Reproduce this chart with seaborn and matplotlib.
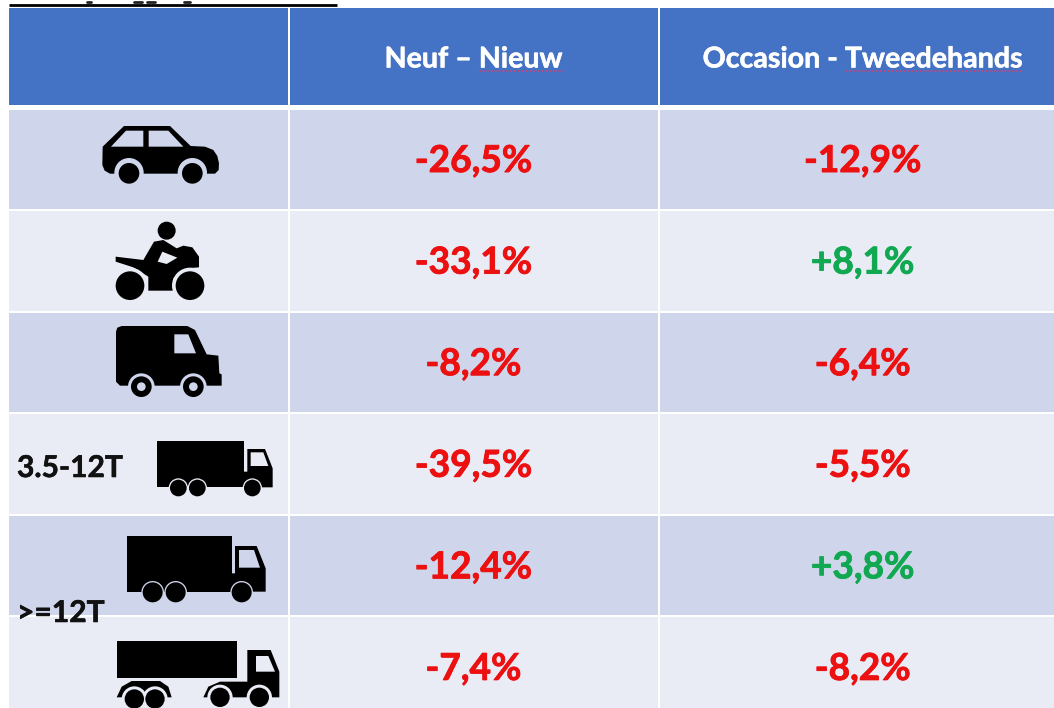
import numpy as np
import seaborn as sns
import matplotlib.pyplot as plt
import matplotlib.patheffects as pe
from matplotlib.colors import ListedColormap
from matplotlib.patches import Circle, Polygon

# table content
columns = ["Neuf – Nieuw", "Occasion - Tweedehands"]
neuf = [-26.5, -33.1, -8.2, -39.5, -12.4, -7.4]
occasion = [-12.9, 8.1, -6.4, -5.5, 3.8, -8.2]
bands = [0, 1, 0, 1, 0, 1]

BLUE = "#4472C4"
DARK_BAND = "#CFD5EA"
LIGHT_BAND = "#E9EBF5"
RED = "#EC1010"
GREEN = "#10A850"
W, H = 1054, 708

sns.set_theme(style="white")
plt.rcParams["font.family"] = ["Lato", "DejaVu Sans"]

fig = plt.figure(figsize=(W / 100, H / 100), dpi=100, facecolor="white")


def px_axes(x0, x1, y0, y1):
    # axes from picture pixels, y counted from the top
    return fig.add_axes([x0 / W, 1 - y1 / H, (x1 - x0) / W, (y1 - y0) / H])


def fmt(v):
    return f"{v:+.1f}%".replace(".", ",")


def thicken(txt, color, width=0.6):
    txt.set_path_effects([pe.withStroke(linewidth=width, foreground=color)])


def nudge(txt, dy):
    x, y = txt.get_position()
    txt.set_position((x, y + dy))


band_cmap = ListedColormap([DARK_BAND, LIGHT_BAND])
col_edges = [(7.5, 288.5), (288.5, 658.5), (658.5, 1067)]
body_values = [None, neuf, occasion]
headers = [""] + columns

for (x0, x1), vals, head in zip(col_edges, body_values, headers):
    # header cell
    ax = px_axes(x0, x1, 7, 106)
    sns.heatmap(np.zeros((1, 1)), ax=ax, cmap=ListedColormap([BLUE]), cbar=False,
                annot=np.array([[head]]), fmt="", linewidths=1.1, linecolor="white",
                xticklabels=False, yticklabels=False,
                annot_kws={"color": "white", "fontsize": 20.6, "fontweight": "bold"})
    for txt in ax.texts:
        nudge(txt, 0.03)
        thicken(txt, "white", 0.4)
    # body cells
    ax = px_axes(x0, x1, 108.5, 718)
    data = np.array(bands, dtype=float).reshape(-1, 1)
    if vals is None:
        annot = False
    else:
        annot = np.array([[fmt(v)] for v in vals])
    sns.heatmap(data, ax=ax, cmap=band_cmap, vmin=0, vmax=1, cbar=False,
                annot=annot, fmt="", linewidths=1.1, linecolor="white",
                xticklabels=False, yticklabels=False,
                annot_kws={"fontsize": 26.7, "fontweight": "bold"})
    if vals is not None:
        for txt, v in zip(ax.texts, vals):
            txt.set_color(RED if v < 0 else GREEN)
            nudge(txt, 0.022)
            thicken(txt, RED if v < 0 else GREEN)

# overlay in picture pixels for the vehicle icons and loose texts
ov = fig.add_axes([0, 0, 1, 1], facecolor="none")
ov.set_xlim(0, W)
ov.set_ylim(H, 0)
ov.axis("off")


def poly(pts, color="black", ox=0, oy=0, k=1 / 3):
    ov.add_patch(Polygon([(ox + x * k, oy + y * k) for x, y in pts], closed=True,
                         facecolor=color, edgecolor="none", zorder=3))


def disc(x, y, r, color="black", ox=0, oy=0, k=1 / 3, z=4):
    ov.add_patch(Circle((ox + x * k, oy + y * k), r * k, facecolor=color,
                        edgecolor="none", zorder=z))


# title remnant, cut by the top of the picture
ov.plot([9, 337], [4.5, 4.5], color="black", lw=2, solid_capstyle="butt", zorder=3)
for a, b in [(87, 91), (134, 142), (147, 155), (184, 190)]:
    ov.plot([a, b], [1.5, 1.5], color="#222222", lw=2, zorder=3)

# spell-check squiggles under the header words
ov.plot([479, 564], [71, 71], color="#B84A80", lw=1.4, ls=(0, (1, 1)), zorder=3)
ov.plot([845, 1023], [71, 71], color="#B84A80", lw=1.4, ls=(0, (1, 1)), zorder=3)

# car
poly([(308, 440), (372, 378), (510, 378), (572, 438), (615, 440), (640, 450), (652, 468),
      (657, 490), (656, 510), (645, 521), (330, 521), (314, 512), (307, 495)])
poly([(333, 440), (378, 392), (430, 392), (430, 440)], DARK_BAND)
poly([(446, 392), (505, 392), (550, 440), (446, 440)], DARK_BAND)
for cx in (387, 577):
    disc(cx, 518, 44, DARK_BAND, z=3.5)
    disc(cx, 520, 31)

# motorbike
disc(500, 692, 27)
poly([(462, 725), (490, 720), (530, 745), (550, 737), (577, 742), (597, 770), (597, 802),
      (560, 805), (520, 835), (520, 872), (445, 872), (445, 830), (400, 802), (347, 785),
      (347, 770), (430, 780)])
poly([(487, 755), (532, 773), (500, 792), (473, 785)], LIGHT_BAND)
for cx in (390, 570):
    disc(cx, 857, 54, LIGHT_BAND, z=3.5)
    disc(cx, 857, 43)

# van
vx, vy = 100, 315
poly([(48, 50), (52, 38), (65, 33), (262, 33), (285, 45), (320, 118), (355, 122), (358, 175),
      (365, 178), (365, 212), (60, 212), (48, 200)], ox=vx, oy=vy)
poly([(223, 58), (265, 58), (288, 115), (223, 115)], DARK_BAND, ox=vx, oy=vy)
for cx in (124, 280):
    disc(cx, 215, 40, DARK_BAND, ox=vx, oy=vy, z=3.5)
    disc(cx, 215, 31, ox=vx, oy=vy)
    disc(cx, 215, 13, DARK_BAND, ox=vx, oy=vy, z=5)


def truck(box, cab, window, wheels, r, band, oy=400):
    poly(box, oy=oy)
    poly(cab, oy=oy)
    poly(window, band, oy=oy)
    for cx, cy in wheels:
        disc(cx, cy, r + 4, band, oy=oy, z=3.5)
        disc(cx, cy, r, oy=oy)


# 3.5-12T truck
truck([(472, 123), (732, 123), (732, 262), (472, 262)],
      [(742, 147), (795, 147), (818, 205), (818, 262), (732, 262), (732, 215), (742, 215)],
      [(752, 157), (790, 157), (805, 198), (752, 198)],
      [(535, 264), (592, 264), (757, 264)], 25, LIGHT_BAND)

# >=12T rigid truck
truck([(382, 408), (695, 408), (695, 575), (382, 575)],
      [(705, 438), (770, 438), (797, 505), (797, 575), (695, 575), (695, 520), (705, 520)],
      [(717, 450), (762, 450), (780, 503), (717, 503)],
      [(458, 577), (527, 577), (725, 577)], 30, DARK_BAND)

# >=12T tractor with trailer
poly([(350, 722), (710, 722), (710, 835), (350, 835)], oy=400)
poly([(742, 750), (812, 750), (838, 815), (838, 892), (640, 892), (610, 892), (625, 860),
      (660, 845), (742, 845)], oy=400)
poly([(768, 768), (805, 768), (825, 815), (768, 815)], LIGHT_BAND, oy=400)
poly([(350, 892), (365, 860), (395, 843), (480, 843), (505, 860), (515, 892)], oy=400)
for cx, cy in [(403, 897), (465, 897), (660, 892), (778, 892)]:
    disc(cx, cy, 38, LIGHT_BAND, oy=400, z=3.5)
    disc(cx, cy, 29, oy=400)

# weight classes
for label, y in [("3.5-12T", 468), (">=12T", 613)]:
    txt = ov.text(17, y, label, color="#111111", fontsize=21.6, fontweight="bold",
                  ha="left", va="center", zorder=6)
    thicken(txt, "#111111", 0.4)

fig.savefig("out.png", dpi=100)
